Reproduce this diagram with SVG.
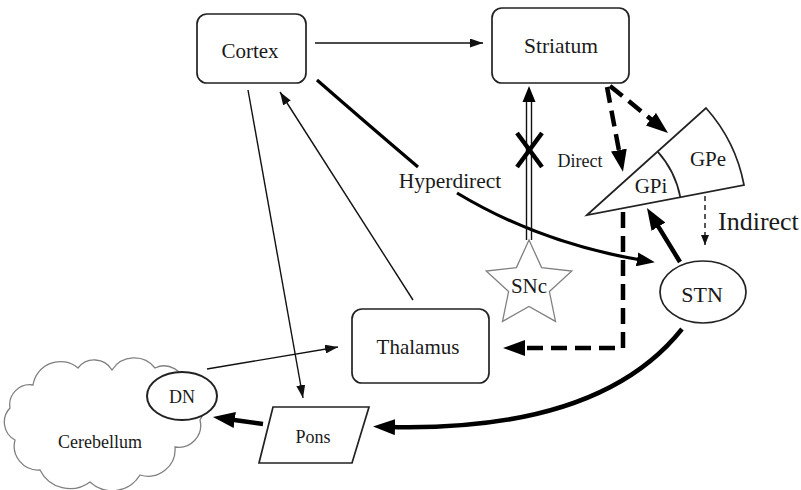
<svg xmlns="http://www.w3.org/2000/svg" width="801" height="490" viewBox="0 0 801 490">
<style>
text{font-family:"Liberation Serif","Times New Roman",serif;fill:#1a1a1a;text-anchor:middle}
.box{fill:#fff;stroke:#222;stroke-width:1.7}
.shape{fill:#fff;stroke:#222;stroke-width:1.7}
.gray{fill:#fff;stroke:#808080;stroke-width:1.3}
.thin{fill:none;stroke:#111;stroke-width:1.4}
.thick{fill:none;stroke:#000;stroke-width:4.5}
.dash{fill:none;stroke:#000;stroke-width:4.5;stroke-dasharray:16 8}
</style>
<defs>
<marker id="aThin" markerUnits="userSpaceOnUse" markerWidth="13" markerHeight="9" refX="13" refY="4.5" orient="auto"><path d="M0,0 L13,4.5 L0,9 z" fill="#111"/></marker>
<marker id="aSmall" markerUnits="userSpaceOnUse" markerWidth="10" markerHeight="8" refX="10" refY="4" orient="auto"><path d="M0,0 L10,4 L0,8 z" fill="#111"/></marker>
<marker id="aBig" markerUnits="userSpaceOnUse" markerWidth="22" markerHeight="16" refX="6" refY="8" orient="auto"><path d="M0,0 L22,8 L0,16 z" fill="#000"/></marker>
<marker id="aHyp" markerUnits="userSpaceOnUse" markerWidth="18" markerHeight="14" refX="4" refY="7" orient="auto"><path d="M0,0 L18,7 L0,14 z" fill="#000"/></marker>
</defs>
<rect width="801" height="490" fill="#fff"/>

<g id="connectors">
<line class="thin" x1="315" y1="43" x2="483" y2="43" marker-end="url(#aThin)"/>
<line class="thin" x1="248" y1="90" x2="303" y2="398" marker-end="url(#aThin)"/>
<line class="thin" x1="413" y1="300" x2="280" y2="92" marker-end="url(#aThin)"/>
<line class="thin" x1="207" y1="369" x2="338" y2="347" marker-end="url(#aThin)"/>
<path d="M317,80 Q365,122 418,167" fill="none" stroke="#000" stroke-width="3.2"/>
<path d="M457,193 Q540,243 641,260" fill="none" stroke="#000" stroke-width="3.2" marker-end="url(#aHyp)"/>
<line x1="526.5" y1="240" x2="526.5" y2="100" stroke="#111" stroke-width="1.4"/>
<line x1="531.5" y1="240" x2="531.5" y2="100" stroke="#111" stroke-width="1.4"/>
<polygon points="529,86 535.5,102 522.5,102" fill="#000"/>
<line x1="517" y1="133" x2="542" y2="167" stroke="#000" stroke-width="4.5"/>
<line x1="542" y1="133" x2="517" y2="167" stroke="#000" stroke-width="4.5"/>
<line class="dash" x1="607" y1="87" x2="620" y2="156" marker-end="url(#aBig)"/>
<line class="dash" x1="610" y1="86" x2="655.6" y2="122.9" marker-end="url(#aBig)"/>
<path class="dash" d="M623,212 L623,348 L519,348" marker-end="url(#aBig)"/>
<line x1="705" y1="196" x2="705" y2="245" stroke="#111" stroke-width="1.4" stroke-dasharray="5 4" marker-end="url(#aSmall)"/>
<line class="thick" x1="680" y1="262" x2="655.3" y2="221.6" marker-end="url(#aBig)"/>
<path class="thick" d="M682,329 Q600,432 389,427" marker-end="url(#aBig)"/>
<line class="thick" x1="263" y1="424" x2="228.8" y2="419.2" marker-end="url(#aBig)"/>
<line x1="107" y1="423" x2="142.2" y2="408.2" stroke="#000" stroke-width="4.5" stroke-dasharray="13 8" marker-end="url(#aBig)"/>
</g>

<g id="cerebellum">
<path class="gray" d="M15,440 A20.4,20.4 0 0,1 10,408 A20,20 0 0,1 33,385 A27.6,27.6 0 0,1 78,368 A20.6,20.6 0 0,1 112,370 A26.5,26.5 0 0,1 155,368 A21,21 0 0,1 185,385 A23,23 0 0,1 200,420 A22,22 0 0,1 175,447 A27,27 0 0,1 140,475 A32.5,32.5 0 0,1 90,482 A33.5,33.5 0 0,1 40,470 A24,24 0 0,1 15,440 Z"/>
<text x="100" y="448" font-size="18">Cerebellum</text>
</g>

<g id="cortex">
<rect class="box" x="197" y="14" width="109" height="69" rx="10"/>
<text x="250" y="58" font-size="21">Cortex</text>
</g>

<g id="striatum">
<rect class="box" x="492" y="8" width="137" height="75" rx="10"/>
<text x="561" y="53" font-size="21.5">Striatum</text>
</g>

<g id="thalamus">
<rect class="box" x="352" y="309" width="137" height="74" rx="10"/>
<text x="418" y="354" font-size="21">Thalamus</text>
</g>

<g id="gp">
<path class="shape" d="M587,215 L706,108 A160,160 0 0,1 744,185 Z"/>
<path d="M657.7,151.6 A95,95 0 0,1 680.3,197.2" fill="none" stroke="#222" stroke-width="1.7"/>
<text x="708" y="166" font-size="21">GPe</text>
<text x="651" y="193" font-size="21">GPi</text>
</g>

<g id="stn">
<ellipse class="shape" cx="703" cy="292" rx="43" ry="31"/>
<text x="702" y="302" font-size="22">STN</text>
</g>

<g id="snc">
<polygon class="gray" points="529,240 541.6,267.6 571.8,271.1 549.4,291.6 555.5,321.4 529,306.5 502.5,321.4 508.6,291.6 486.2,271.1 516.4,267.6"/>
<text x="529" y="293" font-size="21">SNc</text>
</g>

<g id="pons">
<polygon class="shape" points="273,407 369,407 352,463 259,463"/>
<text x="313" y="443" font-size="18">Pons</text>
</g>

<g id="dn">
<ellipse cx="182" cy="396" rx="35" ry="24" fill="#fff" stroke="#222" stroke-width="2"/>
<text x="182" y="403" font-size="18">DN</text>
</g>

<g id="labels">
<text x="450" y="188" font-size="21.5">Hyperdirect</text>
<text x="580" y="167" font-size="18">Direct</text>
<text x="718" y="230" font-size="26" style="text-anchor:start">Indirect</text>
</g>
</svg>
